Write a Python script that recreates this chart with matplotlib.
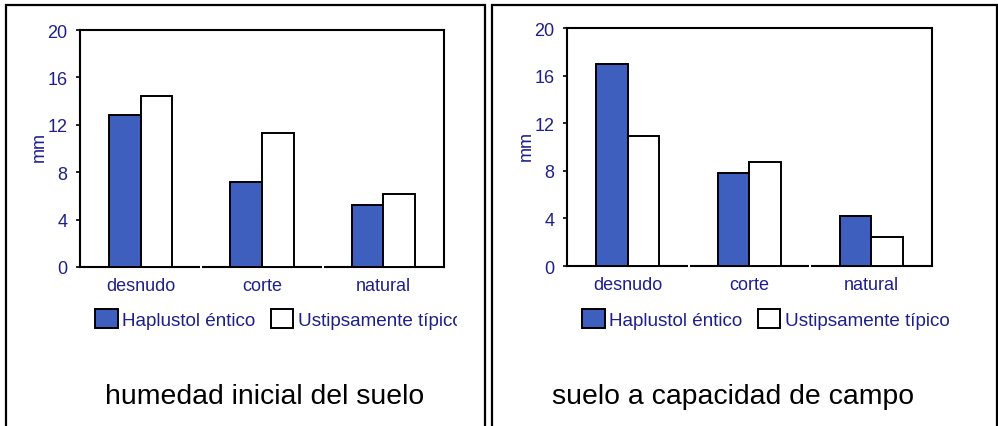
import matplotlib.pyplot as plt
import matplotlib.patches as mpatches
from matplotlib.transforms import Bbox

categorias = ['desnudo', 'corte', 'natural']
series = ['Haplustol éntico', 'Ustipsamente típico']
# humedad inicial del suelo
inicial_hap = [12.8, 7.2, 5.2]
inicial_ust = [14.4, 11.3, 6.2]
# suelo a capacidad de campo
campo_hap = [17.0, 7.8, 4.2]
campo_ust = [10.9, 8.75, 2.4]
yticks = [0, 4, 8, 12, 16, 20]
titulos = ['humedad inicial del suelo', 'suelo a capacidad de campo']

azul = '#3f5fbf'
navy = '#1f1f8c'
W, H = 998, 427

plt.rcParams['font.family'] = ['Liberation Sans', 'DejaVu Sans']
fig = plt.figure(figsize=(W / 100, H / 100), dpi=100)


def px(x0, y0, x1, y1):
    # pixel box (top-left origin) -> figure fraction rect
    return [x0 / W, 1 - y1 / H, (x1 - x0) / W, (y1 - y0) / H]


def panel(rect, hap, ust, titulo, leg_x, clip_x, title_x):
    ax = fig.add_axes(px(*rect))
    xs = range(len(categorias))
    w = 0.26
    ax.bar([i - w for i in xs], hap, w, align='edge', color=azul,
           edgecolor='black', linewidth=1.4, zorder=3)
    ax.bar(list(xs), ust, w, align='edge', color='white',
           edgecolor='black', linewidth=1.4, zorder=3)
    ax.set_xlim(-0.5, 2.5)
    ax.set_ylim(0, 20)
    ax.set_yticks(yticks)
    ax.set_xticks(list(xs))
    ax.set_xticklabels(categorias)
    ax.tick_params(axis='y', direction='out', length=3, width=1.2,
                   pad=6, labelsize=13, labelcolor=navy)
    ax.tick_params(axis='x', length=0, pad=7, labelsize=13, labelcolor=navy)
    for s in ax.spines.values():
        s.set_linewidth(1.5)
    # small gaps on the category axis line
    for b in [0.5, 1.5]:
        ax.plot([b - 0.008, b + 0.008], [0, 0], color='white', lw=3,
                solid_capstyle='butt', clip_on=False, zorder=6)
    ax.set_ylabel('mm', color=navy, fontsize=13)
    ax.yaxis.set_label_coords(-0.088, 0.51)

    handles = [mpatches.Patch(facecolor=azul, edgecolor='black', linewidth=1.4),
               mpatches.Patch(facecolor='white', edgecolor='black', linewidth=1.4)]
    leg = fig.legend(handles, series, ncol=2, frameon=False, fontsize=13.6,
                     loc='center left',
                     bbox_to_anchor=(leg_x / W, 1 - 320 / H),
                     handlelength=1.2, handleheight=1.2, handletextpad=0.25,
                     columnspacing=0.8, borderpad=0, borderaxespad=0)
    for t in leg.get_texts():
        t.set_color(navy)
        if clip_x is not None:
            t.set_clip_box(Bbox([[0, 0], [clip_x, H]]))
            t.set_clip_on(True)
    fig.text(title_x / W, 1 - 404 / H, titulo, ha='center', va='baseline',
             fontsize=20.4)
    return ax


panel((80, 31, 444, 268), inicial_hap, inicial_ust, titulos[0], 95, 457, 265)
panel((567, 29, 932, 267), campo_hap, campo_ust, titulos[1], 582, None, 733)

# panel frames
for x0, x1 in [(6, 485), (492, 997)]:
    fig.add_artist(mpatches.Rectangle((x0 / W, -0.02), (x1 - x0) / W,
                                      1 - 6 / H + 0.02, fill=False,
                                      edgecolor='black', linewidth=1.6,
                                      transform=fig.transFigure))

fig.savefig('out.png', dpi=100)
